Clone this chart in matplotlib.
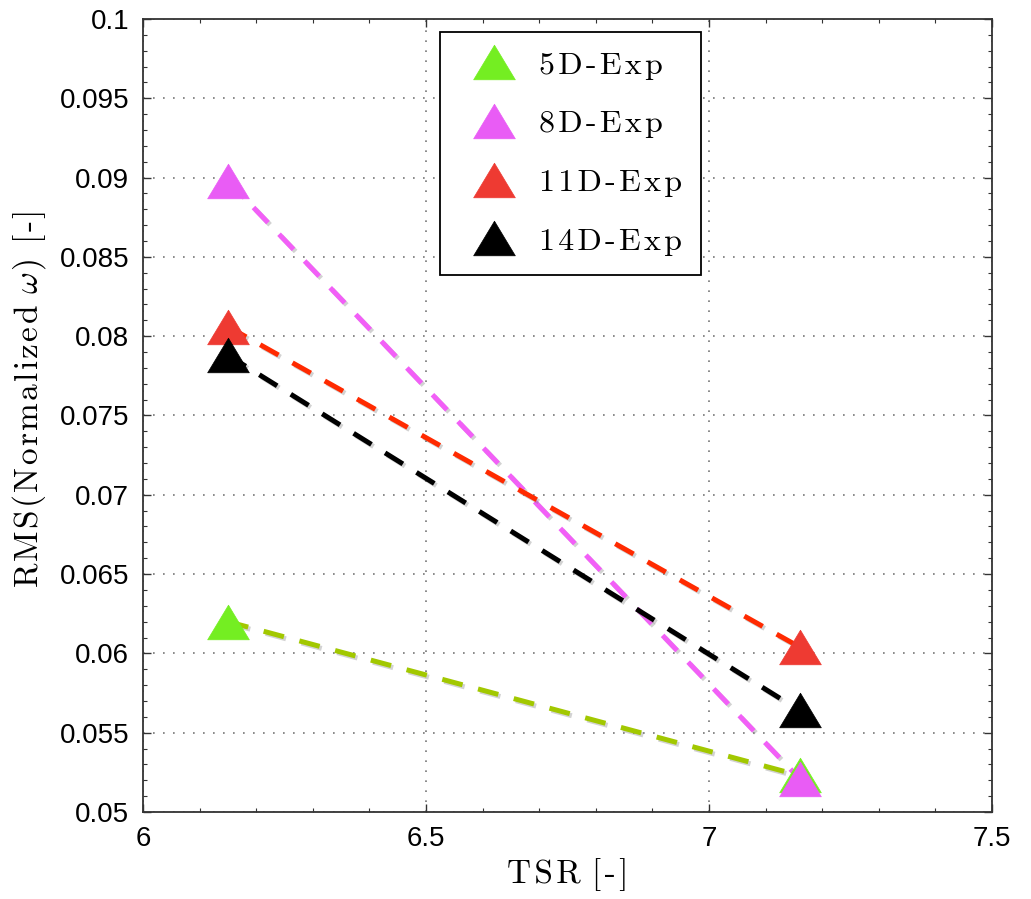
import numpy as np
import matplotlib
matplotlib.use("Agg")
import matplotlib.pyplot as plt
from matplotlib.path import Path
from matplotlib.ticker import AutoMinorLocator
import matplotlib.patheffects as pe

plt.rcParams['mathtext.fontset'] = 'cm'
plt.rcParams['axes.unicode_minus'] = False

# TSR values of the two runs and RMS of normalized omega per downstream position
tsr = [6.15, 7.16]
rms_5d = [0.0620, 0.0523]
rms_8d = [0.0898, 0.0521]
rms_11d = [0.0806, 0.0604]
rms_14d = [0.0788, 0.0564]

labels = ['5D-Exp', '8D-Exp', '11D-Exp', '14D-Exp']
marker_colors = ['#74ee22', '#e95cf5', '#ee3a32', '#000000']
line_colors = ['#a2c800', '#f25ff7', '#ff2a00', '#000000']

xticks = [6, 6.5, 7, 7.5]
xticklabels = ['6', '6.5', '7', '7.5']
yticks = np.linspace(0.05, 0.1, 11)
yticklabels = ['0.05', '0.055', '0.06', '0.065', '0.07', '0.075',
               '0.08', '0.085', '0.09', '0.095', '0.1']

HAIR = '\u200a'
KERN = r'\hspace{0.08}'


def spaced(s):
    # loose letter spacing, like the TeX labels
    return HAIR.join(s)


def spaced_tex(s):
    # same idea, but inside mathtext
    return KERN.join(r'\text{%s}' % c if c != ' ' else r'\ ' for c in s)


# flatter triangle than the default '^'
tri = Path([(-1, -0.83), (1, -0.83), (0, 0.83), (-1, -0.83)],
           [Path.MOVETO, Path.LINETO, Path.LINETO, Path.CLOSEPOLY])

fig = plt.figure(figsize=(10.31, 8.99), dpi=100)
ax = fig.add_axes([0.1387, 0.0968, 0.8235, 0.8821])

series = [rms_5d, rms_8d, rms_11d, rms_14d]
shadow = [pe.SimpleLineShadow(offset=(1.5, -1.5), shadow_color='gray', alpha=0.35),
          pe.Normal()]

for k, (vals, lc) in enumerate(zip(series, line_colors)):
    ax.plot(tsr, vals, color=lc, lw=3.6, dashes=(4.2, 3.2), zorder=2 + k * 0.01,
            path_effects=shadow, dash_capstyle='butt')
handles = []
for k, (vals, lab, mc) in enumerate(zip(series, labels, marker_colors)):
    h, = ax.plot(tsr, vals, ls='none', marker=tri, markersize=30,
                 markerfacecolor=mc, markeredgecolor=mc, markeredgewidth=0.5,
                 zorder=3 + k * 0.01, label=spaced(lab))
    handles.append(h)

ax.set_xlim(6, 7.5)
ax.set_ylim(0.05, 0.1)
ax.set_xticks(xticks)
ax.set_xticklabels(xticklabels)
ax.set_yticks(yticks)
ax.set_yticklabels(yticklabels)
ax.xaxis.set_minor_locator(AutoMinorLocator(5))
ax.yaxis.set_minor_locator(AutoMinorLocator(5))

ax.grid(True, which='major', ls=(0, (1, 5)), lw=1.2, color='#777777')
ax.tick_params(which='both', direction='in', top=True, right=True,
               colors='#333333', labelcolor='black')
ax.tick_params(which='major', length=6, width=1.0, pad=10)
ax.tick_params(which='minor', length=3, width=0.8)
for lbl in ax.get_xticklabels() + ax.get_yticklabels():
    lbl.set_fontfamily('Liberation Sans')
    lbl.set_fontsize(20)
for s in ax.spines.values():
    s.set_linewidth(1.3)
    s.set_color('#333333')

serif = ['cmr10', 'DejaVu Serif']
ax.set_xlabel(spaced('TSR') + ' ' + spaced('[-]'), fontfamily=serif, fontsize=24)
ylab = ('$' + spaced_tex('RMS(Normalized') + r'\hspace{0.4}\omega' + KERN
        + spaced_tex(') [-]') + '$')
ax.set_ylabel(ylab, fontsize=24)
ax.xaxis.set_label_coords(0.5, -0.058)
ax.yaxis.set_label_coords(-0.112, 0.52)

leg = ax.legend(handles=handles, loc='upper left',
                bbox_to_anchor=(440 / 1031, 1 - 32 / 899),
                bbox_transform=fig.transFigure,
                prop={'family': serif, 'size': 23},
                fancybox=False, framealpha=1, edgecolor='black',
                borderpad=0.6, labelspacing=0.95, handletextpad=0.3,
                handlelength=2.2, borderaxespad=0)
leg.get_frame().set_linewidth(1.3)

fig.savefig('out.png', dpi=100)
